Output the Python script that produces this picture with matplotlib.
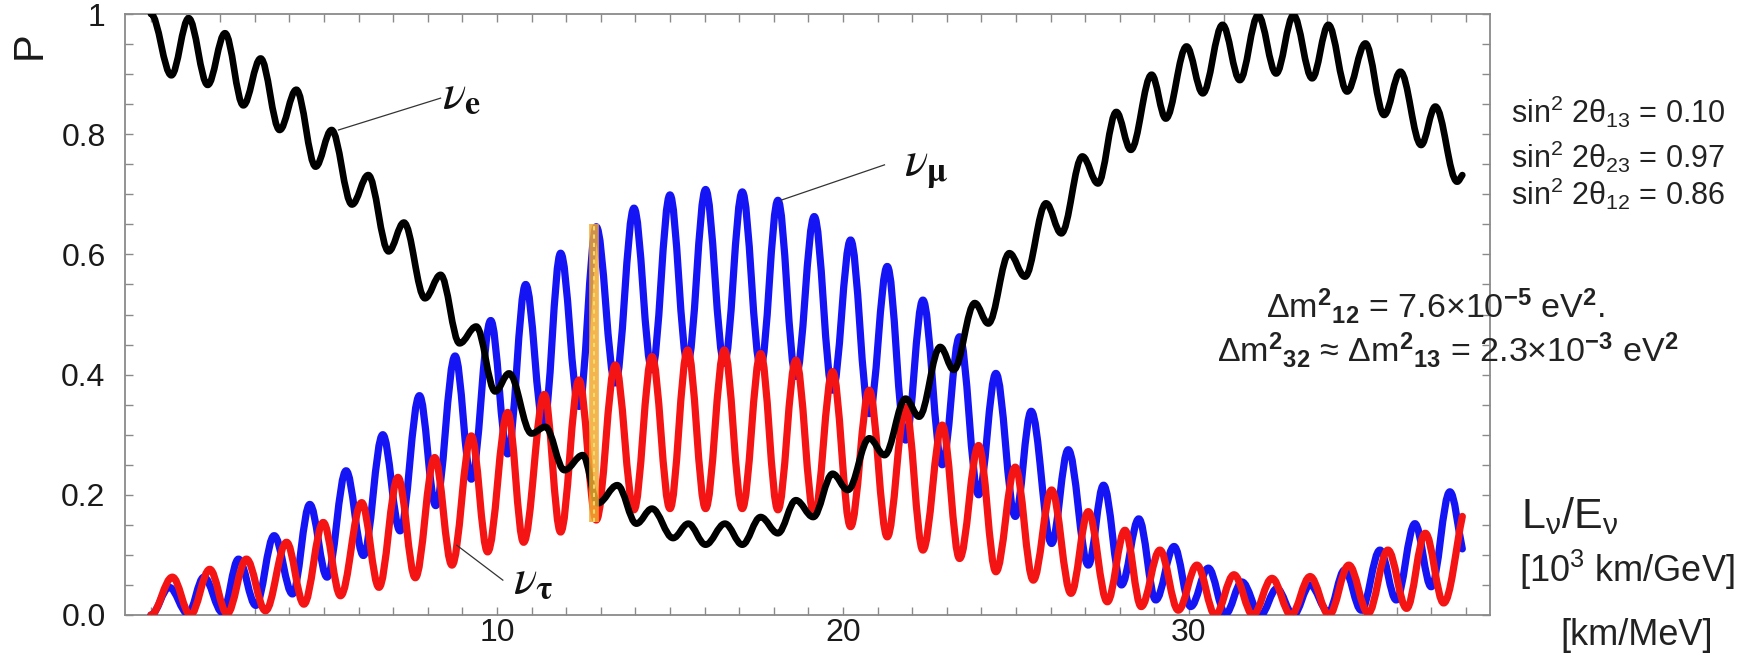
import matplotlib
matplotlib.use('Agg')
import matplotlib.pyplot as plt
from matplotlib.path import Path
from matplotlib.patches import PathPatch

plt.rcParams['font.family'] = ['Liberation Sans', 'DejaVu Sans']
plt.rcParams['mathtext.fontset'] = 'custom'
plt.rcParams['mathtext.rm'] = 'Liberation Sans'
plt.rcParams['mathtext.it'] = 'Liberation Sans:italic'
plt.rcParams['mathtext.bf'] = 'Liberation Sans:bold'

# ---------------- data (extrema of each curve) ----------------
nu_e_x = [0.0, 0.59, 1.09, 1.64, 2.14, 2.67, 3.17, 3.72, 4.20, 4.76, 5.22, 5.81, 6.28, 6.87,
          7.31, 7.92, 8.37, 8.92, 9.40, 9.95, 10.35, 11.00, 11.40, 11.95, 12.48, 12.92, 13.48,
          14.03, 14.48, 15.09, 15.53, 16.03, 16.59, 17.09, 17.62, 18.12, 18.64, 19.14, 19.70,
          20.14, 20.76, 21.20, 21.81, 22.20, 22.81, 23.20, 23.81, 24.20, 24.81, 25.26, 25.87,
          26.31, 26.92, 27.37, 27.90, 28.32, 28.92, 29.33, 29.93, 30.40, 30.97, 31.47, 32.00,
          32.52, 33.02, 33.56, 34.03, 34.57, 35.10, 35.64, 36.11, 36.71, 37.12, 37.75, 37.90]
nu_e_y = [1.000, 0.898, 0.993, 0.882, 0.968, 0.848, 0.926, 0.807, 0.874, 0.746, 0.807, 0.683,
          0.732, 0.605, 0.653, 0.527, 0.566, 0.452, 0.480, 0.372, 0.402, 0.302, 0.313, 0.241,
          0.266, 0.186, 0.216, 0.152, 0.177, 0.128, 0.152, 0.117, 0.152, 0.117, 0.163, 0.136,
          0.191, 0.163, 0.235, 0.208, 0.294, 0.266, 0.360, 0.330, 0.446, 0.408, 0.519, 0.485,
          0.602, 0.563, 0.685, 0.635, 0.763, 0.718, 0.837, 0.774, 0.899, 0.826, 0.946, 0.868,
          0.982, 0.890, 0.998, 0.901, 0.998, 0.893, 0.982, 0.871, 0.951, 0.832, 0.904, 0.782,
          0.846, 0.721, 0.732]

nu_mu_x = [0.0, 0.53, 1.07, 1.53, 2.07, 2.53, 3.03, 3.56, 4.09, 4.59, 5.09, 5.64, 6.14, 6.70,
           7.20, 7.76, 8.23, 8.79, 9.26, 9.82, 10.31, 10.83, 11.35, 11.84, 12.37, 12.87, 13.42,
           13.96, 14.48, 15.00, 15.51, 16.03, 16.57, 17.09, 17.62, 18.12, 18.64, 19.17, 19.70,
           20.22, 20.76, 21.28, 21.81, 22.31, 22.87, 23.37, 23.92, 24.42, 24.98, 25.44, 26.03,
           26.51, 27.09, 27.53, 28.05, 28.55, 29.04, 29.57, 30.05, 30.56, 31.06, 31.53, 32.07,
           32.54, 33.02, 33.50, 34.03, 34.50, 34.98, 35.52, 35.99, 36.53, 37.00, 37.54, 37.90]
nu_mu_y = [0.000, 0.046, 0.002, 0.063, 0.004, 0.093, 0.016, 0.132, 0.035, 0.184, 0.063, 0.240,
           0.099, 0.300, 0.140, 0.365, 0.182, 0.431, 0.226, 0.490, 0.268, 0.550, 0.315, 0.602,
           0.347, 0.646, 0.386, 0.677, 0.408, 0.699, 0.419, 0.708, 0.419, 0.704, 0.413, 0.690,
           0.397, 0.663, 0.374, 0.624, 0.335, 0.580, 0.291, 0.524, 0.250, 0.463, 0.200, 0.402,
           0.164, 0.339, 0.119, 0.275, 0.083, 0.216, 0.050, 0.160, 0.025, 0.114, 0.014, 0.078,
           0.002, 0.055, 0.000, 0.044, 0.000, 0.050, 0.005, 0.075, 0.008, 0.108, 0.025, 0.152,
           0.047, 0.205, 0.110]

nu_tau_x = [0.0, 0.62, 1.14, 1.70, 2.20, 2.76, 3.31, 3.92, 4.42, 4.98, 5.48, 6.09, 6.59, 7.14,
            7.64, 8.20, 8.70, 9.26, 9.73, 10.31, 10.77, 11.37, 11.84, 12.37, 12.87, 13.42, 13.96,
            14.48, 15.00, 15.51, 16.03, 16.57, 17.09, 17.62, 18.12, 18.64, 19.17, 19.70, 20.22,
            20.76, 21.28, 21.81, 22.31, 22.87, 23.37, 23.92, 24.42, 24.98, 25.50, 26.03, 26.59,
            27.09, 27.64, 28.15, 28.62, 29.16, 29.69, 30.23, 30.76, 31.30, 31.85, 32.40, 32.95,
            33.50, 34.05, 34.62, 35.18, 35.75, 36.29, 36.83, 37.36, 37.90]
nu_tau_y = [0.000, 0.063, 0.000, 0.076, 0.002, 0.093, 0.007, 0.121, 0.018, 0.154, 0.032, 0.187,
            0.046, 0.229, 0.062, 0.262, 0.083, 0.298, 0.105, 0.337, 0.121, 0.367, 0.138, 0.391,
            0.158, 0.416, 0.175, 0.430, 0.177, 0.441, 0.177, 0.441, 0.177, 0.435, 0.175, 0.424,
            0.165, 0.405, 0.147, 0.374, 0.130, 0.346, 0.108, 0.316, 0.094, 0.282, 0.072, 0.246,
            0.058, 0.208, 0.036, 0.172, 0.022, 0.141, 0.014, 0.108, 0.008, 0.083, 0.000, 0.067,
            0.000, 0.061, 0.000, 0.064, 0.000, 0.083, 0.003, 0.108, 0.011, 0.136, 0.020, 0.164]

# highlighted vertical marker (orange band)
marker_x = 12.80
marker_y = [0.155, 0.650]

x_ticks_major = [10, 20, 30]
x_tick_labels = ['10', '20', '30']
y_ticks_major = [0.0, 0.2, 0.4, 0.6, 0.8, 1.0]
y_tick_labels = ['0.0', '0.2', '0.4', '0.6', '0.8', '1']

# annotation labels: text anchor and leader line (from curve to label)
lab_e = dict(text=r'$\nu_\mathbf{e}$', xy=(8.42, 0.845), line=[(5.42, 0.807), (8.37, 0.860)])
lab_mu = dict(text=r'$\nu_\mathbf{\mu}$', xy=(21.76, 0.732), line=[(18.20, 0.690), (21.20, 0.749)])
lab_tau = dict(text=r'$\nu_\mathbf{\tau}$', xy=(10.46, 0.038), line=[(8.84, 0.116), (10.17, 0.058)])

params_text = [r'sin$^2$ 2θ$_{13}$ = 0.10', r'sin$^2$ 2θ$_{23}$ = 0.97', r'sin$^2$ 2θ$_{12}$ = 0.86']
dm_text = [r'Δm$^\mathbf{2}{}_\mathbf{12}$ = 7.6×10$^{\mathbf{-5}}$ eV$^\mathbf{2}$.',
           r'Δm$^\mathbf{2}{}_\mathbf{32}$ ≈ Δm$^\mathbf{2}{}_\mathbf{13}$ = 2.3×10$^{\mathbf{-3}}$ eV$^\mathbf{2}$']
axis_texts = [r'L$_\mathrm{ν}$/E$_\mathrm{ν}$', r'[10$^3$ km/GeV]', '[km/MeV]']

COL_E, COL_MU, COL_TAU = '#000000', '#1414f5', '#f51414'


def extrema_path(xs, ys):
    """Smooth curve through extrema: horizontal tangents at each extremum."""
    a = 0.3634
    verts = [(xs[0], ys[0])]
    codes = [Path.MOVETO]
    n = len(xs)
    for i in range(n - 1):
        x0, y0, x1, y1 = xs[i], ys[i], xs[i + 1], ys[i + 1]
        dx = x1 - x0
        c1 = (x0 + a * dx, y0)
        if i == n - 2:
            c2 = (x1 - dx / 3.0, y1 - (y1 - y0) / 3.0)
        else:
            c2 = (x1 - a * dx, y1)
        verts += [c1, c2, (x1, y1)]
        codes += [Path.CURVE4] * 3
    return Path(verts, codes)


W, H = 1748, 656
fig = plt.figure(figsize=(W / 100, H / 100), dpi=100)
ax = fig.add_axes([125 / W, 1 - 615 / H, (1490 - 125) / W, (615 - 14) / H])
ax.set_xlim(-0.75, 38.7)
ax.set_ylim(0, 1)

for xs, ys, col, lw, z in [(nu_mu_x, nu_mu_y, COL_MU, 5.2, 3),
                           (nu_tau_x, nu_tau_y, COL_TAU, 5.2, 4),
                           (nu_e_x, nu_e_y, COL_E, 4.8, 5)]:
    ax.add_patch(PathPatch(extrema_path(xs, ys), fill=False, edgecolor=col, lw=lw,
                           capstyle='round', joinstyle='round', zorder=z))

ax.plot([marker_x, marker_x], marker_y, color='#f0a830', lw=7, alpha=0.85,
        solid_capstyle='butt', zorder=6)
ax.plot([marker_x, marker_x], marker_y, color='#f8e070', lw=1.5, ls=(0, (2, 2)),
        alpha=0.9, zorder=7)

# leader lines & labels
for lab in (lab_e, lab_mu, lab_tau):
    (x0, y0), (x1, y1) = lab['line']
    ax.plot([x0, x1], [y0, y1], color='#333333', lw=0.9, zorder=8)
    ax.text(lab['xy'][0], lab['xy'][1], lab['text'], math_fontfamily='stix', fontsize=35,
            ha='left', va='baseline', color='#111111', zorder=9)

# spines & ticks
for s in ax.spines.values():
    s.set_color('#8a8a8a')
    s.set_linewidth(1.3)
ax.set_xticks(x_ticks_major)
ax.set_xticklabels(x_tick_labels)
ax.set_xticks(range(0, 39), minor=True)
ax.set_yticks(y_ticks_major)
ax.set_yticklabels(y_tick_labels)
ax.set_yticks([i * 0.05 for i in range(21)], minor=True)
ax.tick_params(which='both', direction='in', top=True, right=True, color='#8a8a8a',
               width=1.0, length=5.5)
ax.tick_params(axis='x', which='major', labelsize=23, pad=2, labelcolor='#1a1a1a')
ax.tick_params(axis='y', which='major', labelsize=23, pad=14, labelcolor='#1a1a1a')

fig.text(30 / W, 1 - 45 / H, 'P', rotation=90, fontsize=30, ha='center', va='center',
         color='#1a1a1a')

# right-hand texts
for txt, ybase in zip(params_text, [123, 168, 205]):
    fig.text(1511 / W, 1 - ybase / H, txt, fontsize=22, ha='left', va='baseline', color='#222222')
fig.text(1436 / W, 1 - 318 / H, dm_text[0], fontsize=24.5, ha='center', va='baseline', color='#222222')
fig.text(1448 / W, 1 - 362 / H, dm_text[1], fontsize=24.5, ha='center', va='baseline', color='#222222')
fig.text(1521 / W, 1 - 528 / H, axis_texts[0], fontsize=31, ha='left', va='baseline', color='#222222')
fig.text(1519 / W, 1 - 582 / H, axis_texts[1], fontsize=26, ha='left', va='baseline', color='#222222')
fig.text(1560 / W, 1 - 645 / H, axis_texts[2], fontsize=26, ha='left', va='baseline', color='#222222')

fig.savefig('out.png', dpi=100)
